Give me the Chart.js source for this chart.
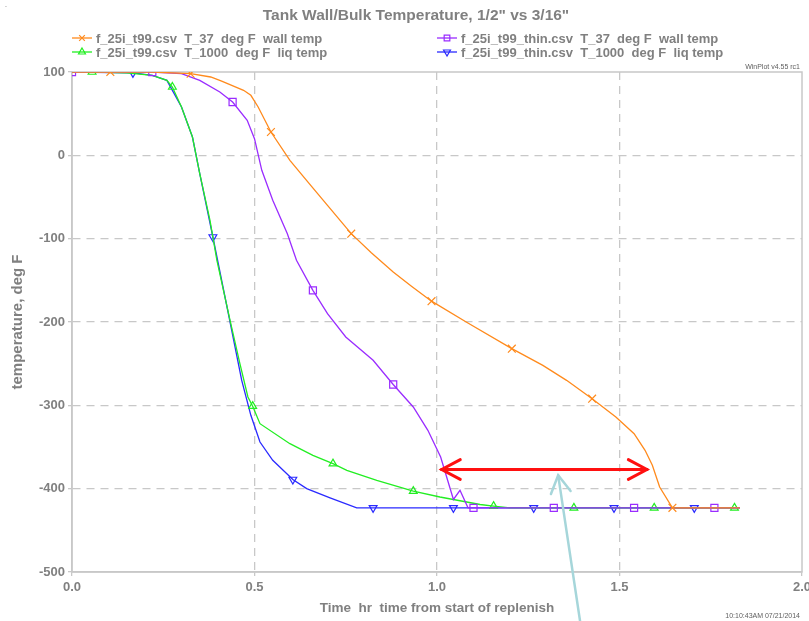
<!DOCTYPE html>
<html><head><meta charset="utf-8">
<script src="https://cdn.jsdelivr.net/npm/chart.js@4/dist/chart.umd.min.js"></script>
<style>html,body{margin:0;padding:0;background:#fff;}#wrap{width:809px;height:621px;position:relative;}</style>
</head><body><div id="wrap"><canvas id="c" width="809" height="621"></canvas></div>
<script>
// ---- data ----
const chartTitle = 'Tank Wall/Bulk Temperature, 1/2" vs 3/16"';
const xTitle = 'Time  hr  time from start of replenish';
const yTitle = 'temperature, deg F';
const seriesLabels = [
  'f_25i_t99.csv  T_37  deg F  wall temp',
  'f_25i_t99_thin.csv  T_37  deg F  wall temp',
  'f_25i_t99.csv  T_1000  deg F  liq temp',
  'f_25i_t99_thin.csv  T_1000  deg F  liq temp'
];
const xTicks = [0, 0.5, 1.0, 1.5, 2.0];
const yTicks = [100, 0, -100, -200, -300, -400, -500];

const wall12X = [0,0.105,0.22,0.325,0.38,0.41,0.47,0.49,0.51,0.545,0.597,0.65,0.70,0.765,0.82,0.88,0.93,0.985,1.08,1.205,1.29,1.355,1.425,1.49,1.54,1.57,1.59,1.61,1.645,1.83];
const wall12Y = [100,100,100,98,94,89,78,72,58,28,-6,-34,-60,-94,-117,-140,-157,-175,-200,-232,-252,-270,-292,-314,-334,-354,-372,-398,-423,-423];
const wall12Marks = [0.105,0.325,0.545,0.765,0.985,1.205,1.425,1.645];

const wallThinX = [0,0.22,0.30,0.35,0.405,0.44,0.48,0.50,0.52,0.55,0.59,0.615,0.66,0.70,0.75,0.825,0.88,0.935,0.975,1.01,1.045,1.063,1.085,1.10,1.32,1.54,1.76,1.83];
const wallThinY = [100,100,98,90,76,64,42,20,-18,-54,-94,-126,-162,-190,-218,-246,-275,-302,-330,-362,-413,-402,-423,-423,-423,-423,-423,-423];
const wallThinMarks = [0,0.22,0.44,0.66,0.88,1.10,1.32,1.54,1.76];

const liq12X = [0,0.055,0.15,0.22,0.26,0.275,0.30,0.33,0.35,0.378,0.397,0.433,0.46,0.482,0.495,0.515,0.597,0.66,0.715,0.753,0.835,0.935,1.008,1.118,1.155,1.2,1.375,1.595,1.815];
const liq12Y = [100,100,99,96,90,82,58,22,-22,-78,-126,-198,-250,-290,-301,-322,-346,-360,-370,-378,-390,-403,-410,-419,-421,-423,-423,-423,-423];
const liq12Marks = [0.055,0.275,0.495,0.715,0.935,1.155,1.375,1.595,1.815];

const liqThinX = [0,0.167,0.22,0.26,0.30,0.33,0.35,0.386,0.433,0.465,0.49,0.515,0.55,0.605,0.643,0.707,0.78,0.825,1.045,1.265,1.485,1.705,1.83];
const liqThinY = [100,99,96,90,58,22,-22,-98,-200,-270,-312,-344,-366,-389,-400,-411,-423,-423,-423,-423,-423,-423,-423];
const liqThinMarks = [0.167,0.386,0.605,0.825,1.045,1.265,1.485,1.705];

// annotation arrows in data units: [xFrom, yFrom, xTo, yTo]
const redArrow = [1.013, -377, 1.575, -377];
const blueArrow = [1.392, -559, 1.332, -384];

// ---- build ----
function pts(xs, ys){ return xs.map((x,i)=>({x:x, y:ys[i]})); }
const FONT = '"Liberation Sans", Arial, sans-serif';
const GRAY = '#808080';
const GRID = '#c8c8c8';

const styles = [
  {color:'#ff8a1c', style:'crossRot', rot:0, marks:wall12Marks, r:5.5},
  {color:'#9a2cff', style:'rect', rot:0, marks:wallThinMarks, r:5},
  {color:'#22ee22', style:'triangle', rot:0, marks:liq12Marks, r:4.5},
  {color:'#2a2aff', style:'triangle', rot:180, marks:liqThinMarks, r:4.5}
];
const xsAll = [wall12X, wallThinX, liq12X, liqThinX];
const ysAll = [wall12Y, wallThinY, liq12Y, liqThinY];

const datasets = seriesLabels.map((lab,i)=>{
  const st = styles[i];
  const ms = new Set(st.marks);
  return {
    label: lab,
    data: pts(xsAll[i], ysAll[i]),
    borderColor: st.color,
    backgroundColor: 'rgba(0,0,0,0)',
    borderWidth: 1.3,
    pointStyle: st.style,
    pointRotation: st.rot,
    pointBorderColor: st.color,
    pointBackgroundColor: 'rgba(0,0,0,0)',
    pointBorderWidth: 1.2,
    pointRadius: (c)=> (c.raw && ms.has(c.raw.x)) ? st.r : 0,
    tension: 0,
    fill: false
  };
});

function arrow(ctx, x1, y1, x2, y2, len, ang){
  ctx.beginPath(); ctx.moveTo(x1,y1); ctx.lineTo(x2,y2); ctx.stroke();
  const a = Math.atan2(y1-y2, x1-x2);
  ctx.beginPath();
  ctx.moveTo(x2 + len*Math.cos(a+ang), y2 + len*Math.sin(a+ang));
  ctx.lineTo(x2, y2);
  ctx.lineTo(x2 + len*Math.cos(a-ang), y2 + len*Math.sin(a-ang));
  ctx.stroke();
}

const decor = {
  id: 'decor',
  beforeDatasetsDraw(chart){
    const {ctx, chartArea:a} = chart;
    ctx.save();
    ctx.strokeStyle = GRID; ctx.lineWidth = 1.5;
    ctx.strokeRect(a.left, a.top, a.right-a.left, a.bottom-a.top);
    ctx.restore();
  },
  afterDraw(chart){
    const {ctx, chartArea:a, scales} = chart;
    const xs = scales.x, ys = scales.y;
    ctx.save();
    // title
    ctx.fillStyle = GRAY; ctx.textAlign = 'center'; ctx.textBaseline = 'middle';
    ctx.font = 'bold 15.5px ' + FONT;
    ctx.fillText(chartTitle, 416, 16);
    // legend
    const colX = [72, 437];
    const rowY = [38, 52];
    chart.data.datasets.forEach((d,i)=>{
      const x0 = colX[i%2], y0 = rowY[Math.floor(i/2)];
      ctx.strokeStyle = d.borderColor; ctx.lineWidth = 1.3;
      ctx.beginPath(); ctx.moveTo(x0, y0); ctx.lineTo(x0+20, y0); ctx.stroke();
      ctx.lineWidth = 1.2; ctx.fillStyle = 'rgba(0,0,0,0)';
      Chart.helpers.drawPoint(ctx, {pointStyle:d.pointStyle, rotation:d.pointRotation, radius:4, borderWidth:1.2}, x0+10, y0);
      ctx.fillStyle = GRAY; ctx.textAlign='left'; ctx.font = 'bold 13px ' + FONT;
      ctx.fillText(d.label, x0+24, y0+1);
    });
    // small texts
    ctx.font = '7px ' + FONT; ctx.fillStyle = '#606060'; ctx.textAlign = 'right';
    ctx.fillText('WinPlot v4.55 rc1', a.right-2, a.top-5);
    ctx.fillText('10:10:43AM 07/21/2014', a.right-2, 616);
    ctx.textAlign='left'; ctx.fillText('.', 5, 5);
    // red double arrow
    ctx.strokeStyle = '#ff1010'; ctx.lineWidth = 3; ctx.lineCap='round';
    const rx1 = xs.getPixelForValue(redArrow[0]), ry1 = ys.getPixelForValue(redArrow[1]);
    const rx2 = xs.getPixelForValue(redArrow[2]), ry2 = ys.getPixelForValue(redArrow[3]);
    arrow(ctx, rx1, ry1, rx2, ry2, 21, 0.49);
    arrow(ctx, rx2, ry2, rx1, ry1, 21, 0.49);
    // light blue arrow
    ctx.strokeStyle = '#a6d6da'; ctx.lineWidth = 2.5;
    arrow(ctx, xs.getPixelForValue(blueArrow[0]), ys.getPixelForValue(blueArrow[1]),
               xs.getPixelForValue(blueArrow[2]), ys.getPixelForValue(blueArrow[3]), 20, 0.52);
    ctx.restore();
  }
};

new Chart(document.getElementById('c'), {
  type: 'line',
  data: {datasets},
  options: {
    responsive: false,
    animation: false,
    devicePixelRatio: 1,
    layout: {padding: {top: 72, right: 7, left: 0, bottom: 0}},
    plugins: {legend:{display:false}, title:{display:false}, tooltip:{enabled:false}},
    scales: {
      x: {
        type: 'linear', min: 0, max: 2,
        afterBuildTicks: (s)=>{ s.ticks = xTicks.map(v=>({value:v})); },
        afterFit: (s)=>{ s.height = 49; s.paddingLeft = 0; s.paddingRight = 0; },
        ticks: {color: GRAY, font:{family:FONT, size:13, weight:'bold'}, padding: 4,
                callback: (v)=> Number(v).toFixed(1), maxRotation:0, autoSkip:false},
        grid: {color:(c)=> (c.tick && (c.tick.value===0 || c.tick.value===2)) ? 'rgba(0,0,0,0)' : GRID,
               lineWidth:1.3, tickLength:4, tickColor:GRID, tickBorderDash:[], tickWidth:1.3},
        border: {display:true, color:GRID, width:1.5, dash:[8,6]},
        title: {display:true, text:xTitle, color:GRAY, font:{family:FONT, size:13.5, weight:'bold'}, padding:{top:0,bottom:5}}
      },
      y: {
        type: 'linear', min: -500, max: 100,
        afterBuildTicks: (s)=>{ s.ticks = yTicks.map(v=>({value:v})); },
        afterFit: (s)=>{ s.width = 72; },
        ticks: {color: GRAY, font:{family:FONT, size:13, weight:'bold'}, padding: 3, autoSkip:false},
        grid: {color:(c)=> (c.tick && (c.tick.value===100 || c.tick.value===-500)) ? 'rgba(0,0,0,0)' : GRID,
               lineWidth:1.3, tickLength:4, tickColor:GRID, tickBorderDash:[], tickWidth:1.3},
        border: {display:true, color:GRID, width:1.5, dash:[8,6]},
        title: {display:true, text:yTitle, color:GRAY, font:{family:FONT, size:15, weight:'bold'}, padding:{top:9,bottom:0}}
      }
    }
  },
  plugins: [decor]
});
</script>
</body></html>
